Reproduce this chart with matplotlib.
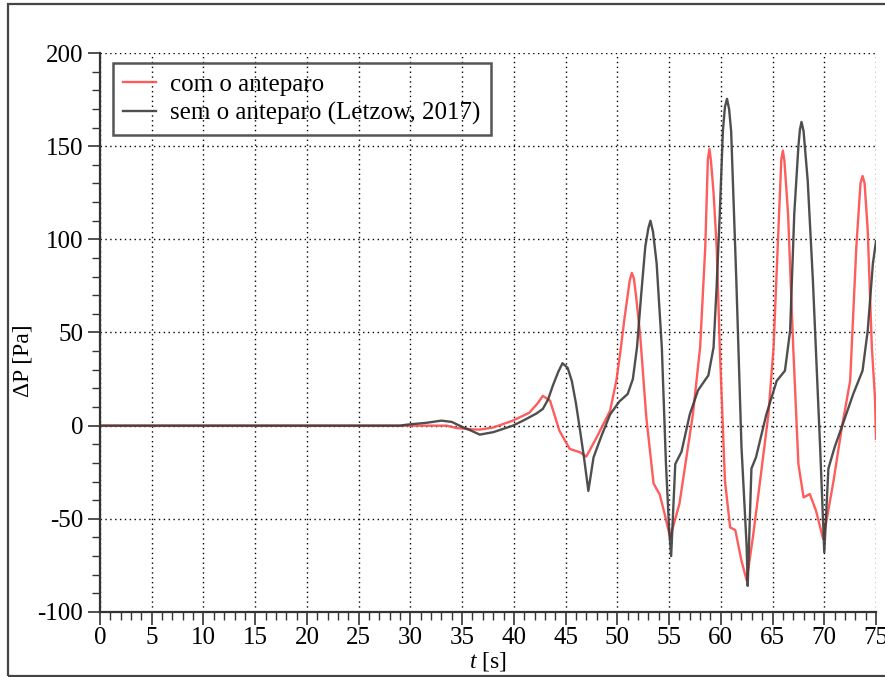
import matplotlib
matplotlib.use("Agg")
import matplotlib.pyplot as plt
from matplotlib.patches import Rectangle
from matplotlib.ticker import MultipleLocator

# sem o anteparo (Letzow, 2017)
t_sem = [0, 29, 29.6, 30.5, 31.5, 33.0, 34.0, 35.1, 35.8, 36.7,
         38.0, 39.9, 41.0, 42.2, 42.8, 43.3, 43.8, 44.3, 44.7, 45.2,
         45.6, 46.0, 46.4, 46.8, 47.2, 47.7, 48.5, 49.3, 50.2, 51.0,
         51.5, 51.9, 52.3, 52.7, 53.0, 53.2, 53.45, 53.8, 54.3, 54.7,
         55.0, 55.2, 55.6, 56.2, 57.0, 57.8, 58.8, 59.3, 59.6, 59.9,
         60.2, 60.4, 60.6, 60.8, 61.0, 61.5, 62.0, 62.5, 62.6, 62.96,
         63.4, 64.4, 65.4, 66.2, 66.7, 67.1, 67.5, 67.65, 67.8, 68.0,
         68.4, 68.9, 69.6, 70.0, 70.4, 71.0, 71.8, 72.8, 73.7, 74.2,
         74.7, 75.0]
p_sem = [0, 0, 0.5, 1, 1.5, 2.7, 2, -0.9, -2.5, -4.8,
         -3.5, 0, 3, 6.6, 9, 14, 22, 29, 33.5, 31,
         24, 12, -2.7, -18, -35, -17, -5, 6, 13, 17,
         25, 42, 70, 96, 106, 110, 104, 87, 42, -20.6,
         -55, -70, -20.6, -14, 6, 19, 27, 42, 75, 113.6,
         158, 171, 175.4, 170, 158, 78, -11.6, -65, -86, -23,
         -17, 6, 24, 29.5, 51, 113.6, 150, 159, 163, 158,
         131.5, 78, -11.6, -68, -23, -11.6, 1, 17, 29.5, 51,
         87, 99]

# com o anteparo
t_com = [0, 33.5, 34.5, 36.0, 36.7, 38.0, 39.9, 41.5, 42.3, 42.8,
         43.5, 44.4, 45.4, 46.4, 47.0, 48.0, 49.3, 49.9, 50.3, 50.7,
         51.2, 51.4, 51.6, 51.8, 52.2, 52.8, 53.5, 54.1, 54.6, 55.1,
         56.0, 57.3, 58.0, 58.5, 58.75, 58.9, 59.05, 59.3, 59.6, 59.9,
         60.4, 60.9, 61.4, 62.0, 62.5, 63.1, 63.8, 64.6, 65.1, 65.5,
         65.85, 66.0, 66.15, 66.5, 67.0, 67.5, 68.0, 68.6, 69.2, 69.9,
         70.9, 71.7, 72.5, 73.1, 73.5, 73.7, 73.9, 74.2, 74.6, 74.9,
         75.0]
p_com = [0, 0, -1.3, -2, -2.1, -1, 2.7, 7, 12, 16,
         13.4, -2.7, -12.5, -14.3, -16.6, -6.3, 8, 24, 40, 58,
         78, 82, 79, 70, 49, 4.5, -31, -37, -48, -60,
         -42, 6, 42, 96, 143, 148.5, 142, 125, 96, 42,
         -29.5, -54.6, -56, -72.5, -83, -60, -29.5, 6, 42, 96,
         143, 147.6, 142, 113.6, 42, -20.6, -38.5, -36.7, -45.6, -60.9,
         -29.5, -0.9, 24, 96, 130, 134, 130, 104.7, 42, 15,
         -7]

plt.rcParams["font.family"] = ["Liberation Serif", "DejaVu Serif"]
plt.rcParams["mathtext.fontset"] = "custom"
plt.rcParams["mathtext.rm"] = "Liberation Serif"
plt.rcParams["mathtext.it"] = "Liberation Serif:italic"
plt.rcParams["axes.unicode_minus"] = False
plt.rcParams["font.size"] = 18

fig = plt.figure(figsize=(8.85, 6.77), dpi=100)
ax = fig.add_axes([100 / 885, 65 / 677, 776 / 885, 559 / 677])

ax.plot(t_com, p_com, color="#ff4a4a", lw=1.7, alpha=0.9, label="com o anteparo")
ax.plot(t_sem, p_sem, color="#3c3c3c", lw=1.7, alpha=0.9, label="sem o anteparo (Letzow, 2017)")

ax.set_xlim(0, 75)
ax.set_ylim(-100, 200)
ax.xaxis.set_major_locator(MultipleLocator(5))
ax.xaxis.set_minor_locator(MultipleLocator(1))
ax.yaxis.set_major_locator(MultipleLocator(50))
ax.yaxis.set_minor_locator(MultipleLocator(10))

for side in ["top", "right"]:
    ax.spines[side].set_visible(False)
for side in ["left", "bottom"]:
    ax.spines[side].set_linewidth(1.6)
    ax.spines[side].set_color("#333333")

ax.tick_params(which="major", direction="out", length=9, width=1.2, color="#333333")
ax.tick_params(which="minor", direction="out", length=5.5, width=1.0, color="#333333")
ax.tick_params(axis="x", pad=2, labelsize=18)
ax.tick_params(axis="y", pad=3, labelsize=18)

ax.grid(True, which="major", linestyle=(0, (1, 2.5)), color="black", lw=1.0)
ax.xaxis.get_gridlines()[-1].set_visible(False)
ax.yaxis.get_gridlines()[-1].set_visible(False)

ax.set_xlabel("$t$ [s]", fontsize=17)
ax.set_ylabel("ΔP [Pa]", fontsize=17)
ax.xaxis.set_label_coords(0.5, -0.068)
ax.yaxis.set_label_coords(-0.086, 0.45)

leg = ax.legend(loc="upper left", bbox_to_anchor=(13 / 776, 1 - 10 / 559),
                fancybox=False, framealpha=1, facecolor="none",
                edgecolor="#555555", fontsize=18, handlelength=1.3,
                handletextpad=0.6, borderpad=0.4, labelspacing=0.25,
                borderaxespad=0)
leg.get_frame().set_linewidth(1.8)

fig.patches.append(Rectangle((8 / 885, 1 / 677), 1.0, 672 / 677,
                             transform=fig.transFigure, fill=False,
                             edgecolor="#444444", lw=1.6))

fig.savefig("out.png", dpi=100)
